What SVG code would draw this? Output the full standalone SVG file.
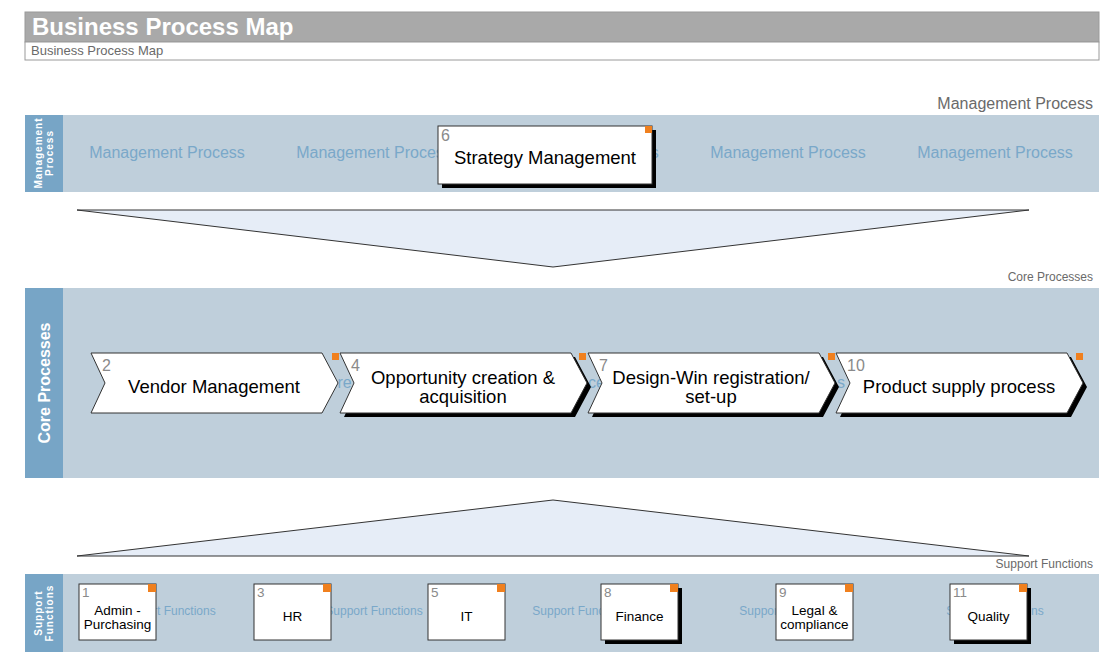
<svg xmlns="http://www.w3.org/2000/svg" width="1110" height="671" viewBox="0 0 1110 671">
<style>
.band{fill:#bfcfdb}
.strip{fill:#77a5c6}
.wm{font-family:"Liberation Sans",Arial,sans-serif;fill:#7aa8c9;text-anchor:middle}
.lane{font-family:"Liberation Sans",Arial,sans-serif;fill:#ffffff;font-weight:bold;text-anchor:middle}
.cap{font-family:"Liberation Sans",Arial,sans-serif;fill:#6a6a6a;text-anchor:end}
.node{fill:#ffffff;stroke:#333333;stroke-width:1}
.shadow{fill:#000000}
.num{font-family:"Liberation Sans",Arial,sans-serif;fill:#8a8a8a}
.lbl{font-family:"Liberation Sans",Arial,sans-serif;fill:#000000;text-anchor:middle}
.flag{fill:#f0801e}
.tri{fill:#e6edf7;stroke:#333333;stroke-width:1}
</style>
<defs>
<path id="chev" d="M0,0 H231 L247,30 L231,60 H0 L14,30 Z"/>
</defs>
<rect width="1110" height="671" fill="#ffffff"/>

<g id="header">
<rect x="25" y="12" width="1074" height="30" fill="#a9a9a9" stroke="#9a9a9a"/>
<text x="32" y="35" font-family="Liberation Sans,Arial,sans-serif" font-size="24" font-weight="bold" fill="#ffffff">Business Process Map</text>
<rect x="25" y="42" width="1074" height="18" fill="#ffffff" stroke="#9a9a9a"/>
<text x="31" y="55" font-family="Liberation Sans,Arial,sans-serif" font-size="13" fill="#6a6a6a">Business Process Map</text>
</g>

<g id="lane-management">
<text class="cap" x="1093" y="109" font-size="16">Management Process</text>
<rect class="band" x="25" y="115" width="1074" height="77"/>
<rect class="strip" x="25" y="115" width="38" height="77"/>
<text class="lane" font-size="10" letter-spacing="1" transform="translate(44,153) rotate(-90)"><tspan x="0" y="-2">Management</tspan><tspan x="0" y="9">Process</tspan></text>
<text class="wm" x="167" y="158" font-size="16">Management Process</text>
<text class="wm" x="374" y="158" font-size="16">Management Process</text>
<text class="wm" x="581" y="158" font-size="16">Management Process</text>
<text class="wm" x="788" y="158" font-size="16">Management Process</text>
<text class="wm" x="995" y="158" font-size="16">Management Process</text>
</g>

<g id="node-6" transform="translate(438,126)">
<rect class="shadow" x="4" y="4" width="214" height="58"/>
<rect class="node" x="0" y="0" width="214" height="58"/>
<rect class="flag" x="207" y="0" width="7" height="7"/>
<text class="num" x="3" y="15" font-size="16">6</text>
<text class="lbl" x="107" y="38" font-size="18.5">Strategy Management</text>
</g>

<g id="connectors">
<polygon class="tri" points="77,210 1029,210 553,267"/>
<polygon class="tri" points="77,556 1029,556 553,500"/>
</g>

<g id="lane-core">
<text class="cap" x="1093" y="281" font-size="12">Core Processes</text>
<rect class="band" x="25" y="288" width="1074" height="190"/>
<rect class="strip" x="25" y="288" width="38" height="190"/>
<text class="lane" font-size="16" transform="translate(49.5,383) rotate(-90)" x="0" y="0">Core Processes</text>
<text class="wm" x="167" y="388" font-size="16">Core Processes</text>
<text class="wm" x="374" y="388" font-size="16">Core Processes</text>
<text class="wm" x="581" y="388" font-size="16">Core Processes</text>
<text class="wm" x="788" y="388" font-size="16">Core Processes</text>
<text class="wm" x="995" y="388" font-size="16">Core Processes</text>
</g>

<g id="node-2" transform="translate(91,353)">
<use href="#chev" class="node"/>
<rect class="flag" x="241" y="0" width="7" height="7"/>
<text class="num" x="11" y="18" font-size="16">2</text>
<text class="lbl" x="123" y="40" font-size="18.5">Vendor Management</text>
</g>

<g id="node-4" transform="translate(340,353)">
<use href="#chev" class="shadow" x="4" y="4"/>
<use href="#chev" class="node"/>
<rect class="flag" x="239" y="0" width="7" height="7"/>
<text class="num" x="11" y="18" font-size="16">4</text>
<text class="lbl" x="123" y="31" font-size="18.5">Opportunity creation &amp;</text>
<text class="lbl" x="123" y="50" font-size="18.5">acquisition</text>
</g>

<g id="node-7" transform="translate(588,353)">
<use href="#chev" class="shadow" x="4" y="4"/>
<use href="#chev" class="node"/>
<rect class="flag" x="240" y="0" width="7" height="7"/>
<text class="num" x="11" y="18" font-size="16">7</text>
<text class="lbl" x="123" y="31" font-size="18.5">Design-Win registration/</text>
<text class="lbl" x="123" y="50" font-size="18.5">set-up</text>
</g>

<g id="node-10" transform="translate(836,353)">
<use href="#chev" class="shadow" x="4" y="4"/>
<use href="#chev" class="node"/>
<rect class="flag" x="240" y="0" width="7" height="7"/>
<text class="num" x="11" y="18" font-size="16">10</text>
<text class="lbl" x="123" y="40" font-size="18.5">Product supply process</text>
</g>

<g id="lane-support">
<text class="cap" x="1093" y="568" font-size="12">Support Functions</text>
<rect class="band" x="25" y="574" width="1074" height="78"/>
<rect class="strip" x="25" y="574" width="38" height="78"/>
<text class="lane" font-size="10" letter-spacing="1" transform="translate(44,613) rotate(-90)"><tspan x="0" y="-2">Support</tspan><tspan x="0" y="9">Functions</tspan></text>
<text class="wm" x="167" y="615" font-size="12">Support Functions</text>
<text class="wm" x="374" y="615" font-size="12">Support Functions</text>
<text class="wm" x="581" y="615" font-size="12">Support Functions</text>
<text class="wm" x="788" y="615" font-size="12">Support Functions</text>
<text class="wm" x="995" y="615" font-size="12">Support Functions</text>
</g>

<g id="node-1" transform="translate(79,584)">
<rect class="node" x="0" y="0" width="77" height="56"/>
<rect class="flag" x="69" y="0" width="8" height="8"/>
<text class="num" x="3" y="13" font-size="13.5">1</text>
<text class="lbl" x="38.5" y="31" font-size="13.5">Admin -</text>
<text class="lbl" x="38.5" y="45" font-size="13.5">Purchasing</text>
</g>

<g id="node-3" transform="translate(254,584)">
<rect class="node" x="0" y="0" width="77" height="56"/>
<rect class="flag" x="69" y="0" width="8" height="8"/>
<text class="num" x="3" y="13" font-size="13.5">3</text>
<text class="lbl" x="38.5" y="37" font-size="13.5">HR</text>
</g>

<g id="node-5" transform="translate(428,584)">
<rect class="node" x="0" y="0" width="77" height="56"/>
<rect class="flag" x="69" y="0" width="8" height="8"/>
<text class="num" x="3" y="13" font-size="13.5">5</text>
<text class="lbl" x="38.5" y="37" font-size="13.5">IT</text>
</g>

<g id="node-8" transform="translate(601,584)">
<rect class="shadow" x="4" y="4" width="77" height="56"/>
<rect class="node" x="0" y="0" width="77" height="56"/>
<rect class="flag" x="69" y="0" width="8" height="8"/>
<text class="num" x="3" y="13" font-size="13.5">8</text>
<text class="lbl" x="38.5" y="37" font-size="13.5">Finance</text>
</g>

<g id="node-9" transform="translate(776,584)">
<rect class="node" x="0" y="0" width="77" height="56"/>
<rect class="flag" x="69" y="0" width="8" height="8"/>
<text class="num" x="3" y="13" font-size="13.5">9</text>
<text class="lbl" x="38.5" y="31" font-size="13.5">Legal &amp;</text>
<text class="lbl" x="38.5" y="45" font-size="13.5">compliance</text>
</g>

<g id="node-11" transform="translate(950,584)">
<rect class="shadow" x="4" y="4" width="77" height="56"/>
<rect class="node" x="0" y="0" width="77" height="56"/>
<rect class="flag" x="69" y="0" width="8" height="8"/>
<text class="num" x="3" y="13" font-size="13.5">11</text>
<text class="lbl" x="38.5" y="37" font-size="13.5">Quality</text>
</g>
</svg>
